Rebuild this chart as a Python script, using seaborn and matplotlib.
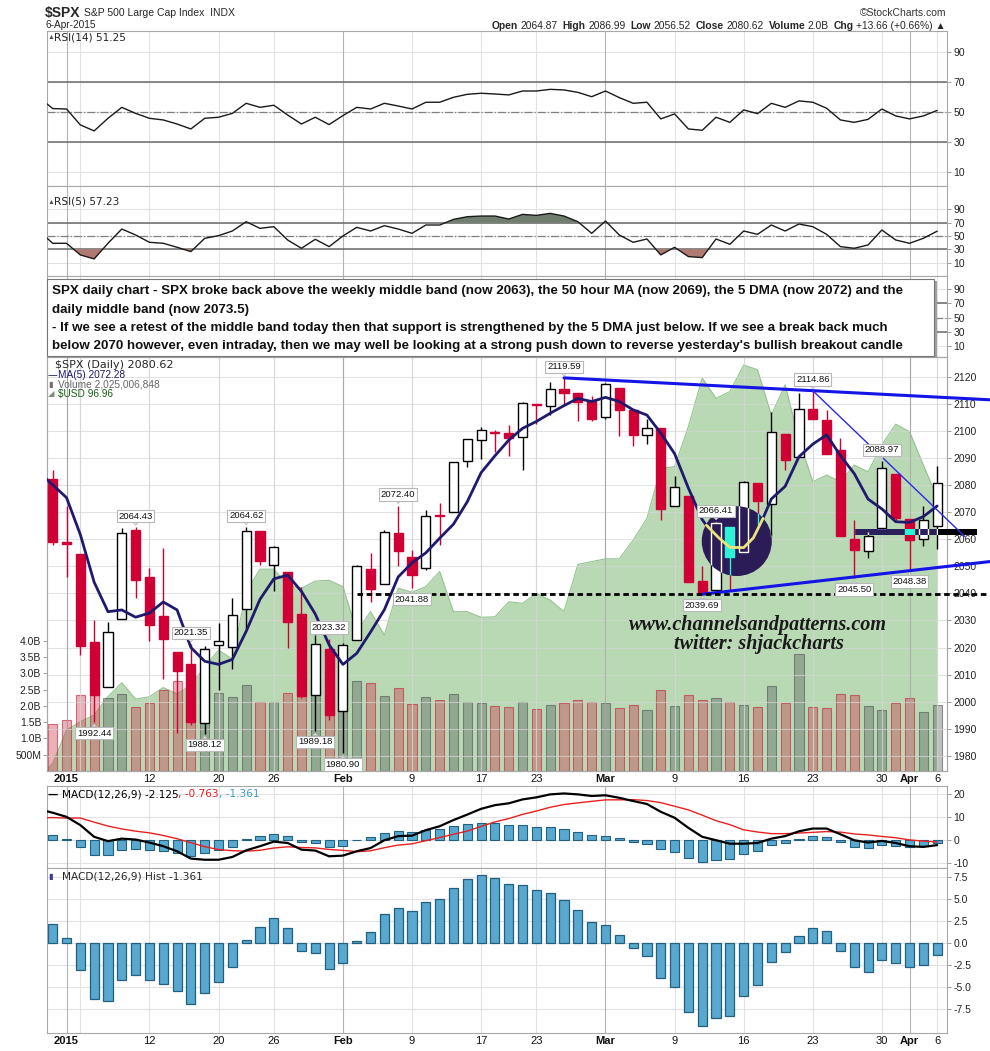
import numpy as np
import pandas as pd
import matplotlib
matplotlib.use("Agg")
import matplotlib.pyplot as plt
import seaborn as sns
from matplotlib.patches import Rectangle, Ellipse

sns.set_style("white")
plt.rcParams['font.family'] = ['Liberation Sans', 'DejaVu Sans']
plt.rcParams['axes.unicode_minus'] = False

# ---------------------------------------------------------------
# Data: $SPX daily, 30-Dec-2014 .. 6-Apr-2015
# ---------------------------------------------------------------
dates = pd.bdate_range('2014-12-30', '2015-04-06', freq='C',
                       holidays=['2015-01-01', '2015-01-19', '2015-02-16', '2015-04-03'])

opens = [2088.49, 2082.11,
         2058.90, 2054.44, 2022.15, 2005.55, 2030.61, 2063.45, 2046.13, 2031.58, 2018.40, 2013.75,
         1992.25, 2020.76, 2020.19, 2034.30, 2062.98, 2050.42, 2047.86, 2032.34, 2002.45, 2019.35,
         1996.67, 2022.71, 2048.86, 2043.45, 2062.28, 2053.47, 2049.38, 2068.55, 2069.98, 2088.78,
         2096.47, 2099.16, 2099.25, 2097.65, 2109.83, 2109.10, 2115.30, 2113.91, 2110.88,
         2105.23, 2115.76, 2107.72, 2098.54, 2100.91, 2072.25, 2076.14, 2044.69, 2041.10, 2064.56,
         2055.35, 2080.59, 2072.84, 2098.69, 2090.32, 2107.99, 2103.94, 2093.10, 2059.94, 2055.78,
         2064.11, 2084.05, 2067.63, 2060.03, 2064.87]
highs = [2088.49, 2085.58,
         2072.36, 2054.44, 2030.25, 2029.61, 2064.08, 2064.43, 2049.30, 2056.93, 2018.40, 2021.35,
         2020.46, 2028.94, 2038.29, 2064.62, 2062.98, 2057.62, 2047.86, 2042.49, 2024.64, 2023.32,
         2021.66, 2050.30, 2054.74, 2063.55, 2072.40, 2056.16, 2070.86, 2073.48, 2088.53, 2097.03,
         2101.30, 2100.23, 2102.13, 2110.61, 2110.05, 2117.94, 2119.59, 2113.91, 2112.74,
         2117.52, 2115.76, 2107.72, 2104.25, 2100.91, 2083.49, 2076.14, 2050.08, 2066.41, 2064.56,
         2081.41, 2080.59, 2106.85, 2098.69, 2113.92, 2114.86, 2107.63, 2097.43, 2067.15, 2062.83,
         2088.97, 2084.05, 2067.63, 2072.17, 2086.99]
lows = [2079.53, 2057.94,
        2046.04, 2017.34, 1992.44, 2005.55, 2030.61, 2038.33, 2022.58, 2008.25, 1988.44, 1991.47,
        1988.12, 2004.49, 2012.04, 2026.38, 2050.54, 2040.97, 2019.91, 2001.49, 1989.18, 1993.38,
        1980.90, 2022.71, 2036.72, 2043.45, 2049.97, 2041.88, 2048.62, 2057.99, 2069.98, 2086.70,
        2089.80, 2092.15, 2090.79, 2085.44, 2102.68, 2105.87, 2109.89, 2103.76, 2103.75,
        2104.50, 2098.26, 2094.49, 2095.22, 2067.27, 2072.21, 2044.16, 2039.69, 2041.10, 2041.17,
        2055.35, 2065.08, 2061.23, 2085.56, 2090.32, 2104.42, 2091.50, 2061.05, 2045.50, 2052.96,
        2064.11, 2067.04, 2048.38, 2057.32, 2056.52]
closes = [2080.35, 2058.90,
          2058.20, 2020.58, 2002.61, 2025.90, 2062.14, 2044.81, 2028.26, 2023.03, 2011.27, 1992.67,
          2019.42, 2022.55, 2032.12, 2063.15, 2051.82, 2057.09, 2029.55, 2002.16, 2021.25, 1994.99,
          2020.85, 2050.03, 2041.51, 2062.52, 2055.47, 2046.74, 2068.59, 2068.53, 2088.48, 2096.99,
          2100.34, 2099.68, 2097.45, 2110.30, 2109.66, 2115.48, 2113.86, 2110.74, 2104.50,
          2117.39, 2107.78, 2098.53, 2101.04, 2071.26, 2079.43, 2044.16, 2040.24, 2065.95, 2053.40,
          2081.19, 2074.28, 2099.50, 2089.27, 2108.10, 2104.42, 2091.50, 2061.05, 2056.15, 2061.02,
          2086.24, 2067.89, 2059.69, 2066.96, 2080.62]
closes_before = [2082.17, 2081.88, 2088.77, 2090.57]   # 23..29 Dec, for the 5 day MA

# volume in billions
volumes = [1.60, 1.44,
           1.57, 2.33, 2.33, 2.23, 2.35, 1.95, 2.08, 2.49, 2.76, 2.40,
           2.66, 2.38, 2.26, 2.64, 2.11, 2.11, 2.38, 2.31, 2.64, 2.50,
           2.57, 2.76, 2.69, 2.30, 2.54, 2.05, 2.26, 2.17, 2.35, 2.11,
           2.08, 2.00, 1.95, 2.11, 1.90, 2.03, 2.08, 2.17, 2.13,
           2.08, 1.92, 2.03, 1.86, 2.49, 2.00, 2.33, 2.17, 2.23, 2.13,
           2.03, 1.95, 2.61, 2.08, 3.59, 1.95, 1.92, 2.35, 2.33, 2.00,
           1.86, 2.08, 2.23, 1.82, 2.025]

usd = [89.90, 90.27,
       91.11, 91.32, 91.49, 91.95, 92.30, 91.89, 91.95, 92.18, 92.02, 92.24,
       92.70, 93.12, 92.90, 94.59, 95.16, 95.16, 94.76, 94.68, 94.86, 94.88,
       94.72, 93.59, 94.09, 93.50, 94.68, 94.58, 94.72, 95.10, 94.09, 94.09,
       93.95, 93.96, 94.34, 94.30, 94.55, 94.38, 94.09, 95.28, 95.35,
       95.42, 95.42, 95.89, 96.44, 97.70, 97.74, 98.75, 99.97, 99.46, 99.63,
       100.30, 100.18, 99.04, 99.80, 98.41, 97.36, 97.53, 97.36, 97.78, 97.61,
       98.29, 98.81, 98.62, 97.78, 96.96]

rsi14 = [60.0, 52.5,
         52.2, 41.6, 37.6, 46.0, 53.3, 49.3, 46.0, 44.9, 42.2, 38.9,
         46.0, 46.7, 49.3, 56.0, 53.3, 54.7, 48.2, 42.2, 46.7, 41.8,
         47.8, 53.3, 52.2, 56.0, 54.2, 52.2, 56.7, 56.7, 60.0, 62.0,
         62.7, 62.2, 61.6, 64.2, 64.2, 65.3, 64.9, 63.3, 60.4,
         64.2, 59.8, 56.0, 56.7, 45.6, 48.9, 38.9, 38.0, 46.7, 43.3,
         51.6, 49.1, 56.0, 53.3, 57.6, 56.7, 52.7, 44.9, 43.3, 45.3,
         52.2, 47.6, 45.6, 47.6, 51.25]

rsi5 = [58.0, 39.0,
        39.0, 21.5, 15.5, 39.0, 60.5, 51.5, 40.5, 39.0, 33.0, 26.5,
        46.5, 50.5, 57.5, 71.5, 61.5, 64.0, 44.0, 31.5, 45.0, 34.0,
        50.0, 63.0, 57.5, 65.5, 60.5, 54.0, 66.5, 66.5, 75.0, 79.0,
        80.0, 80.0, 75.5, 82.5, 81.0, 84.0, 80.0, 71.5, 54.0,
        72.5, 51.5, 40.5, 45.5, 21.5, 33.0, 19.0, 17.5, 45.5, 37.5,
        57.5, 52.5, 66.5, 57.5, 68.0, 64.0, 52.5, 34.0, 31.5, 36.5,
        59.0, 44.0, 39.0, 46.5, 57.23]

macd = [13.5, 12.0,
        10.2, 6.6, 1.5, -0.4, 0.7, 0.3, -1.0, -2.6, -4.8, -8.0,
        -8.5, -8.5, -7.3, -4.4, -2.6, -0.6, -1.2, -4.1, -4.5, -7.0,
        -6.7, -4.8, -3.4, 0.0, 1.8, 2.0, 4.4, 6.1, 8.8, 11.2,
        13.7, 15.3, 16.1, 17.8, 18.7, 20.0, 20.4, 20.0, 19.3,
        19.6, 18.5, 17.1, 15.8, 12.4, 9.8, 5.4, 1.5, 0.0, -1.5,
        -1.5, -1.2, 0.7, 1.8, 3.9, 5.1, 5.1, 2.6, 0.0, -1.0,
        -0.3, -1.2, -2.6, -2.9, -2.125]

macd_hist = [3.80, 2.11,
             0.53, -3.09, -6.38, -6.60, -4.23, -3.66, -4.23, -4.68, -5.47, -6.94,
             -5.70, -4.45, -2.75, 0.38, 1.77, 2.79, 1.66, -0.94, -1.17, -2.98,
             -2.30, 0.19, 1.21, 3.25, 3.92, 3.58, 4.60, 4.94, 6.19, 7.21,
             7.66, 7.32, 6.64, 6.53, 5.96, 5.62, 4.83, 3.70, 2.34,
             2.00, 0.87, -0.60, -1.51, -4.00, -5.02, -7.85, -9.43, -8.53, -8.30,
             -6.04, -4.79, -2.19, -1.06, 0.75, 1.66, 1.32, -0.94, -2.75, -3.32,
             -1.96, -2.30, -2.75, -2.53, -1.361]

tick_dates = ['2015-01-02', '2015-01-05', '2015-01-12', '2015-01-20', '2015-01-26', '2015-02-02',
              '2015-02-09', '2015-02-17', '2015-02-23', '2015-03-02', '2015-03-09', '2015-03-16',
              '2015-03-23', '2015-03-30', '2015-04-01', '2015-04-06']
tick_labels = ['2015', '', '12', '20', '26', 'Feb', '9', '17', '23', 'Mar', '9', '16',
               '23', '30', 'Apr', '6']
month_labels = ['2015', 'Feb', 'Mar', 'Apr']

# labelled highs / lows (dates)
high_label_dates = ['2015-01-09', '2015-01-15', '2015-01-22', '2015-01-30', '2015-02-06',
                    '2015-02-25', '2015-03-12', '2015-03-23', '2015-03-30']
low_label_dates = ['2015-01-06', '2015-01-16', '2015-01-29', '2015-02-02', '2015-02-09',
                   '2015-03-11', '2015-03-26', '2015-04-01']

note_lines = [
    "SPX daily chart - SPX broke back above the weekly middle band (now 2063), the 50 hour MA (now 2069), the 5 DMA (now 2072) and the",
    "daily middle band (now 2073.5)",
    "- If we see a retest of the middle band today then that support is strengthened by the 5 DMA just below. If we see a break back much",
    "below 2070 however, even intraday, then we may well be looking at a strong push down to reverse yesterday's bullish breakout candle",
]

# ---------------------------------------------------------------
o = np.array(opens); h = np.array(highs); l = np.array(lows); c = np.array(closes)
pos = np.arange(len(c))
prev_c = np.concatenate([[closes_before[-1]], c[:-1]])
down = c < prev_c
hollow = c > o
ma5 = pd.Series(closes_before + closes).rolling(5).mean().to_numpy()[len(closes_before):]
signal = np.array(macd) - np.array(macd_hist)
idx = {d.strftime('%Y-%m-%d'): k for k, d in enumerate(dates)}
tick_pos = [idx[d] for d in tick_dates]
tick_major = [t in month_labels for t in tick_labels]

W, H = 990, 1051
L, R = 46.7, 946.7
XLIM = (0.566, 65.69)
RED = '#d10034'
CYAN = '#2ef2d6'

fig = plt.figure(figsize=(W / 100, H / 100), dpi=100)


def fy(y):
    return 1 - y / H


def panel(top, bottom):
    return fig.add_axes([L / W, 1 - bottom / H, (R - L) / W, (bottom - top) / H])


def base_style(ax, ylim, yticks=None, ylabels=None, hgrid=None):
    ax.set_xlim(XLIM)
    ax.set_ylim(ylim)
    ax.set_xticks([])
    ax.yaxis.tick_right()
    if yticks is not None:
        ax.set_yticks(yticks)
        if ylabels is not None:
            ax.set_yticklabels(ylabels)
    else:
        ax.set_yticks([])
    ax.tick_params(axis='y', labelsize=7.5, length=3, width=0.6, color='#909090',
                   pad=2, labelcolor='#222222')
    for sp in ax.spines.values():
        sp.set_color('#a8a8a8')
        sp.set_linewidth(0.8)
    for y in (hgrid if hgrid is not None else (yticks if yticks is not None else [])):
        ax.axhline(y, color='#e2e2e2', lw=0.8, zorder=0)
    for p, m in zip(tick_pos, tick_major):
        ax.axvline(p, color='#b4b4b4' if m else '#e2e2e2', lw=0.8, zorder=0)


def date_axis(ax):
    ax.set_xticks(tick_pos)
    ax.set_xticklabels(tick_labels)
    ax.tick_params(axis='x', length=0, pad=2.5, labelsize=8, labelcolor='#111111')
    for t in ax.get_xticklabels():
        if t.get_text() in month_labels:
            t.set_fontweight('bold')


def text_row(x, y, segs, align='left'):
    r = fig.canvas.get_renderer()
    arts = []
    for s, kw, gap in segs:
        t = fig.text(0, fy(y), s, va='center_baseline', ha='left', **kw)
        arts.append((t, t.get_window_extent(r).width, gap))
    total = sum(w + g for _, w, g in arts) - arts[-1][2]
    cx = x - total if align == 'right' else x
    for t, w, g in arts:
        t.set_x(cx / W)
        cx += w + g


# ---------------- RSI panels ----------------
def rsi_panel(top, bottom, ylim, values=None):
    ax = panel(top, bottom)
    base_style(ax, ylim, [10, 30, 50, 70, 90])
    ax.axhline(70, color='#6a6a6a', lw=1.1, zorder=1)
    ax.axhline(30, color='#6a6a6a', lw=1.1, zorder=1)
    ax.axhline(50, color='#808080', lw=0.9, ls='-.', zorder=1)
    if values is not None:
        v = np.array(values)
        ax.fill_between(pos, v, 70, where=v > 70, interpolate=True, color='#6f7e6f', lw=0, zorder=2)
        ax.fill_between(pos, v, 30, where=v < 30, interpolate=True, color='#b07a72', lw=0, zorder=2)
        sns.lineplot(x=pos, y=v, ax=ax, color='#1a1a1a', linewidth=1.0, zorder=3)
        ax.set_xlabel('')
        ax.set_ylabel('')
    return ax


ax_r14 = rsi_panel(31, 186, (0.87, 104.2), rsi14)
ax_r5 = rsi_panel(186, 276, (-10.2, 125.2), rsi5)
ax_r3 = rsi_panel(276, 357, (-6.0, 108.9))

# ---------------- price panel ----------------
ax_usd = panel(357, 771)
base_style(ax_usd, (90.08, 100.50), hgrid=[])
ax_usd.fill_between(pos, usd, 85, color='#b9d9b5', lw=0, zorder=1)
ax_usd.plot(pos, usd, color='#93c28f', lw=0.8, zorder=1)
date_axis(ax_usd)

ax_vol = ax_usd.twinx()
ax_vol.set_xlim(XLIM)
ax_vol.set_ylim(0, 12.71e9)
vol_face = [(0.78, 0.16, 0.24, 0.36) if d else (0.32, 0.32, 0.32, 0.36) for d in down]
vol_edge = [(0.78, 0.16, 0.24, 0.65) if d else (0.32, 0.32, 0.32, 0.6) for d in down]
ax_vol.bar(pos, np.array(volumes) * 1e9, width=0.66, color=vol_face, edgecolor=vol_edge, lw=0.8)
ax_vol.yaxis.tick_left()
vol_ticks = [0.5e9, 1e9, 1.5e9, 2e9, 2.5e9, 3e9, 3.5e9, 4e9]
ax_vol.set_yticks(vol_ticks)
ax_vol.set_yticklabels(['500M', '1.0B', '1.5B', '2.0B', '2.5B', '3.0B', '3.5B', '4.0B'])
ax_vol.tick_params(axis='y', labelsize=7.5, length=3, width=0.6, color='#909090', pad=1,
                   labelcolor='#222222')
for sp in ax_vol.spines.values():
    sp.set_visible(False)

ax_px = ax_usd.twinx()
ax_px.set_xlim(XLIM)
ax_px.set_ylim(1974.4, 2127.3)
price_ticks = np.arange(1980, 2121, 10)
ax_px.set_yticks(price_ticks)
ax_px.tick_params(axis='y', labelsize=7.5, length=3, width=0.6, color='#909090', pad=2,
                  labelcolor='#222222')
for sp in ax_px.spines.values():
    sp.set_color('#a8a8a8')
    sp.set_linewidth(0.8)
for y in price_ticks:
    ax_px.axhline(y, color='#d6d6d6', lw=0.8, alpha=0.7, zorder=0.5)
for p, m in zip(tick_pos, tick_major):
    ax_px.axvline(p, color='#a8a8a8' if m else '#d6d6d6', lw=0.8, alpha=0.8, zorder=0.5)


def draw_candles(ax, inv=False, clip=None, z=3):
    cols = np.where(down, CYAN if inv else RED, 'white' if inv else 'black')
    top = np.maximum(o, c)
    bot = np.minimum(o, c)
    arts = [ax.vlines(pos, top, h, colors=cols, lw=1, zorder=z),
            ax.vlines(pos, l, bot, colors=cols, lw=1, zorder=z)]
    face = np.where(hollow, 'none' if inv else 'white', cols)
    bars = ax.bar(pos, np.maximum(top - bot, 0.35), bottom=bot, width=0.66,
                  color=face, edgecolor=cols, lw=1, zorder=z + 0.1)
    arts += list(bars.patches)
    if clip is not None:
        for a in arts:
            a.set_clip_path(clip)


draw_candles(ax_px)
sns.lineplot(x=pos, y=ma5, ax=ax_px, color='#1f1a6e', linewidth=2, zorder=5)
ax_px.set_xlabel('')
ax_px.set_ylabel('')

# high / low labels
for d in high_label_dates + low_label_dates:
    k = idx[d]
    is_high = d in high_label_dates
    v = h[k] if is_high else l[k]
    ax_px.annotate(f'{v:.2f}', xy=(k, v), xytext=(0, 11 if is_high else -11),
                   textcoords='offset pixels', ha='center', va='center', fontsize=6.8,
                   color='#111111', zorder=9,
                   bbox=dict(boxstyle='square,pad=0.18', fc='white', ec='#b8b8b8', lw=0.8),
                   arrowprops=dict(arrowstyle='wedge,tail_width=0.45', fc='white',
                                   ec='#b8b8b8', lw=0.6, shrinkA=0, shrinkB=1.5))

# hand drawn annotations
x_end = 68.8
k1, k2 = idx['2015-02-25'], idx['2015-03-23']
slope = (h[k2] - h[k1]) / (k2 - k1)
ax_px.plot([k1, x_end], [h[k1], h[k1] + slope * (x_end - k1)], color='#1414e6', lw=2.2,
           clip_on=False, zorder=7)
k3, k4 = idx['2015-03-11'], idx['2015-04-01']
slope = (l[k4] - l[k3]) / (k4 - k3)
ax_px.plot([k3, x_end], [l[k3], l[k3] + slope * (x_end - k3)], color='#1414e6', lw=2.2,
           clip_on=False, zorder=7)
ax_px.plot([k2, 67.0], [h[k2], 2061.0], color='#2a2ae6', lw=1.0, clip_on=False, zorder=7)
ax_px.plot([23, x_end], [l[k3], l[k3]], color='black', lw=2, ls=(0, (2, 1.3)),
           clip_on=False, zorder=7)

band = Rectangle((59.05, 2061.4), 65.06 - 59.05, 2.2, color='#2b1f5c', lw=0, zorder=6)
ax_px.add_patch(band)
ax_px.add_patch(Rectangle((65.06, 2061.4), 67.88 - 65.06, 2.2, color='black', lw=0,
                          zorder=6, clip_on=False))
draw_candles(ax_px, inv=True, clip=band, z=6.2)

blob = Ellipse((50.5, 2059.3), 5.07, 25.8, color='#2b1c58', lw=0, zorder=6)
ax_px.add_patch(blob)
draw_candles(ax_px, inv=True, clip=blob, z=6.2)
smile_x = [48.3, 49.2, 50.0, 51.0, 51.7, 52.4]
smile_y = [2065.2, 2060.5, 2057.0, 2056.9, 2060.5, 2067.7]
ax_px.plot(smile_x, smile_y, color='#ece27a', lw=2, zorder=8, solid_capstyle='round')

ax_px.text(52.07, 2028.3, 'www.channelsandpatterns.com', ha='center', va='center',
           family=['Liberation Serif', 'DejaVu Serif'], style='italic', weight='bold',
           fontsize=14.5, color='#1a1a1a', zorder=8)
ax_px.text(52.1, 2021.4, 'twitter: shjackcharts', ha='center', va='center',
           family=['Liberation Serif', 'DejaVu Serif'], style='italic', weight='bold',
           fontsize=14.5, color='#1a1a1a', zorder=8)

# ---------------- MACD panels ----------------
ax_m = panel(786, 868)
base_style(ax_m, (-12.1, 23.65), [-10, 0, 10, 20])
ax_m.bar(pos, macd_hist, width=0.66, color='#58a8d0', edgecolor='#22607f', lw=0.8, zorder=2)
sns.lineplot(x=pos, y=signal, ax=ax_m, color='#e82020', linewidth=1.0, zorder=3)
sns.lineplot(x=pos, y=macd, ax=ax_m, color='black', linewidth=1.6, zorder=4)
ax_m.set_xlabel('')
ax_m.set_ylabel('')

ax_h = panel(868, 1033)
base_style(ax_h, (-10.2, 8.48), [-7.5, -5, -2.5, 0, 2.5, 5, 7.5],
           ['-7.5', '-5.0', '-2.5', '0.0', '2.5', '5.0', '7.5'])
ax_h.bar(pos, macd_hist, width=0.66, color='#58a8d0', edgecolor='#22607f', lw=0.9, zorder=2)
date_axis(ax_h)

# ---------------- texts ----------------
fig.text(45 / W, fy(12), '$SPX', fontsize=10, weight='bold', va='center_baseline')
fig.text(84 / W, fy(12), 'S&P 500 Large Cap Index  INDX', fontsize=7.5, va='center_baseline')
fig.text(45 / W, fy(24.5), dates[-1].strftime('%-d-%b-%Y'), fontsize=7.3, va='center_baseline')
fig.text(946 / W, fy(12), '\u00a9StockCharts.com', fontsize=7.5, color='#333333',
         ha='right', va='center_baseline')

chg = c[-1] - c[-2]
bold = dict(fontsize=7.4, weight='bold')
reg = dict(fontsize=7.4)
text_row(946, 24.6, [
    ('Open', bold, 2.5), (f'{o[-1]:.2f}', reg, 5),
    ('High', bold, 2.5), (f'{h[-1]:.2f}', reg, 5),
    ('Low', bold, 2.5), (f'{l[-1]:.2f}', reg, 5),
    ('Close', bold, 2.5), (f'{c[-1]:.2f}', reg, 5),
    ('Volume', bold, 2.5), (f'{volumes[-1]:.1f}B', reg, 5),
    ('Chg', bold, 2.5), (f'{chg:+.2f} ({chg / c[-2] * 100:+.2f}%) \u25b2', reg, 0),
], align='right')

mono = dict(family=['DejaVu Sans'])
fig.text(48 / W, fy(36.7), '\u25b2', fontsize=5, color='#555555', va='center_baseline')
fig.text(54 / W, fy(36.7), f'RSI(14) {rsi14[-1]:.2f}', fontsize=7.6, va='center_baseline', **mono)
fig.text(48 / W, fy(201), '\u25b2', fontsize=5, color='#555555', va='center_baseline')
fig.text(54 / W, fy(201), f'RSI(5) {rsi5[-1]:.2f}', fontsize=7.6, va='center_baseline', **mono)

fig.text(55 / W, fy(363.7), f'$SPX (Daily) {c[-1]:.2f}', fontsize=8, va='center_baseline', **mono)
fig.text(48 / W, fy(374.3), '\u2014', fontsize=7, color='#1f1a6e', va='center_baseline', **mono)
fig.text(58 / W, fy(374.3), f'MA(5) {ma5[-1]:.2f}', fontsize=7.3, color='#1f1a6e', va='center_baseline')
fig.text(48 / W, fy(383.7), '\u25ae', fontsize=6, color='#707070', va='center_baseline', **mono)
fig.text(58 / W, fy(383.7), 'Volume 2,025,006,848', fontsize=7.3, color='#666666', va='center_baseline')
fig.text(48 / W, fy(392.7), '\u25e2', fontsize=6, color='#7a907a', va='center_baseline', **mono)
fig.text(58 / W, fy(392.7), f'$USD {usd[-1]:.2f}', fontsize=7.3, color='#146014', va='center_baseline')

fig.text(48 / W, fy(793.3), '\u2014', fontsize=7.5, color='black', weight='bold', va='center_baseline', **mono)
text_row(61.7, 793.3, [
    ('MACD(12,26,9) -2.125', dict(fontsize=7.6, color='black', **mono), 0),
    (', -0.763', dict(fontsize=7.6, color='#e82020', **mono), 0),
    (', -1.361', dict(fontsize=7.6, color='#3a9ad0', **mono), 0),
])
fig.text(48 / W, fy(875.3), '\u25ae', fontsize=6, color='#3a3a9a', va='center_baseline', **mono)
fig.text(61.7 / W, fy(875.3), f'MACD(12,26,9) Hist {macd_hist[-1]:.3f}', fontsize=7.6,
         va='center_baseline', **mono)

# ---------------- comment box ----------------
fig.add_artist(Rectangle((49.4 / W, fy(357.7)), (936.7 - 49.4) / W, (357.7 - 281) / H,
                         transform=fig.transFigure, color='#a0a0a0', lw=0, zorder=10))
fig.add_artist(Rectangle((47 / W, fy(355.7)), (934.3 - 47) / W, (355.7 - 278.7) / H,
                         transform=fig.transFigure, fc='white', ec='#777777', lw=0.8, zorder=11))
for y, line in zip([291, 309.5, 328, 346.5], note_lines):
    fig.text(52.5 / W, fy(y), line, fontsize=9.6, weight='bold', color='#111111',
             va='center', zorder=12)

fig.savefig('out.png', dpi=100)
